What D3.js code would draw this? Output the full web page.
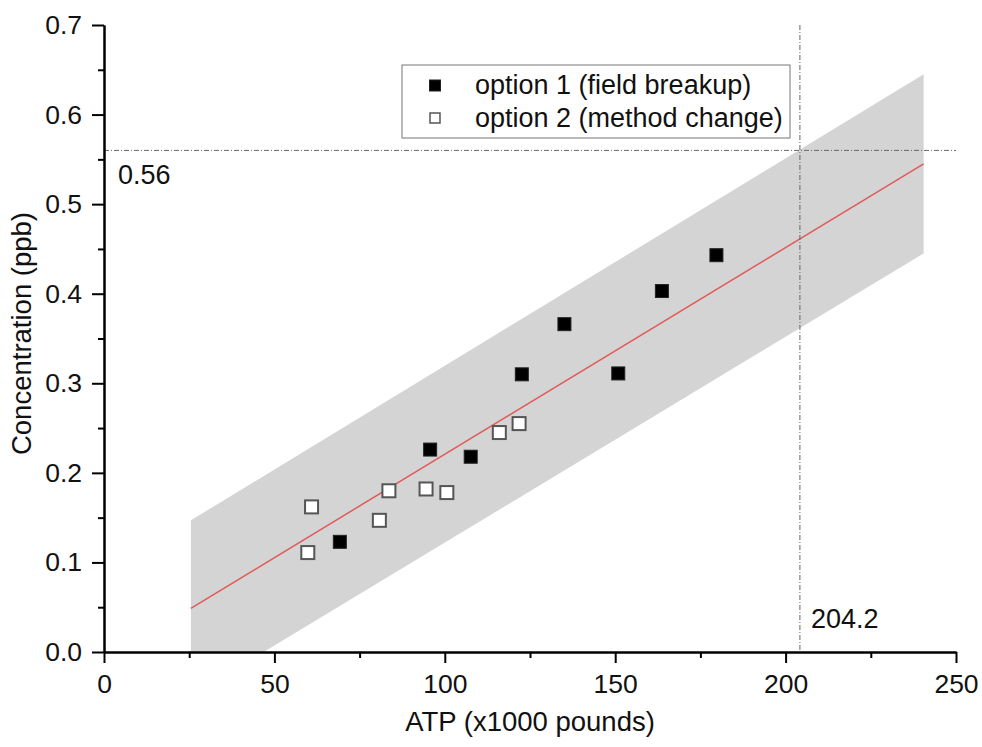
<!DOCTYPE html>
<html>
<head>
<meta charset="utf-8">
<script src="https://cdn.jsdelivr.net/npm/d3@7"></script>
<style>
  html, body { margin: 0; padding: 0; background: #fff; }
  svg { display: block; }
  text { font-family: "Liberation Sans", Arial, sans-serif; fill: #111; }
</style>
</head>
<body>
<svg id="chart" width="982" height="747"></svg>
<script>
// ---------------- data ----------------
const xTicks = [0, 50, 100, 150, 200, 250];
const xMinorTicks = [25, 75, 125, 175, 225];
const yTicks = [0.0, 0.1, 0.2, 0.3, 0.4, 0.5, 0.6, 0.7];
const yMinorTicks = [0.05, 0.15, 0.25, 0.35, 0.45, 0.55, 0.65];

const option1X = [69.2, 95.7, 107.6, 122.6, 135.1, 150.9, 163.7, 179.7];
const option1Y = [0.123, 0.226, 0.218, 0.310, 0.366, 0.311, 0.403, 0.443];

const option2X = [59.8, 60.9, 80.8, 83.6, 94.5, 100.6, 116.0, 121.8];
const option2Y = [0.111, 0.162, 0.147, 0.180, 0.182, 0.178, 0.245, 0.255];

const fitX = [25.5, 240.5];
const fitY = [0.0488, 0.545];
const bandUpper = [0.147, 0.645];
const bandLower = [-0.049, 0.445];

const refX = 204.2;
const refY = 0.56;
const refXLabel = "204.2";
const refYLabel = "0.56";

const seriesNames = ["option 1 (field breakup)", "option 2 (method change)"];
const xTitle = "ATP (x1000 pounds)";
const yTitle = "Concentration (ppb)";

// ---------------- layout ----------------
const svg = d3.select("#chart");
const mLeft = 104, mRight = 956, mTop = 25, mBottom = 652;

const x = d3.scaleLinear().domain([0, 250]).range([mLeft, mRight]);
const y = d3.scaleLinear().domain([0, 0.7]).range([mBottom, mTop]);

svg.append("defs").append("clipPath").attr("id", "plotclip")
  .append("rect").attr("x", mLeft).attr("y", mTop)
  .attr("width", mRight - mLeft).attr("height", mBottom - mTop);

// confidence band
const bandData = fitX.map((d, i) => ({x: d, lo: bandLower[i], hi: bandUpper[i]}));
svg.append("path")
  .datum(bandData)
  .attr("clip-path", "url(#plotclip)")
  .attr("fill", "#d4d4d4")
  .attr("d", d3.area().x(d => x(d.x)).y0(d => y(d.lo)).y1(d => y(d.hi)));

// fit line
const fitData = fitX.map((d, i) => ({x: d, y: fitY[i]}));
svg.append("path")
  .datum(fitData)
  .attr("fill", "none")
  .attr("stroke", "#e05a5a")
  .attr("stroke-width", 1.5)
  .attr("d", d3.line().x(d => x(d.x)).y(d => y(d.y)));

// reference lines
svg.append("line")
  .attr("x1", x(0)).attr("x2", x(250))
  .attr("y1", y(refY)).attr("y2", y(refY))
  .attr("stroke", "#666").attr("stroke-width", 1)
  .attr("stroke-dasharray", "5,2,1,2");
svg.append("line")
  .attr("x1", x(refX)).attr("x2", x(refX))
  .attr("y1", y(0.7)).attr("y2", y(0))
  .attr("stroke", "#666").attr("stroke-width", 1)
  .attr("stroke-dasharray", "5,2,1,2");

svg.append("text").attr("x", x(0) + 14).attr("y", y(refY) + 34)
  .attr("font-size", 27).text(refYLabel);
svg.append("text").attr("x", x(refX) + 11).attr("y", y(0) - 24)
  .attr("font-size", 27).text(refXLabel);

// markers
const msize = 13;
const p1 = option1X.map((d, i) => ({x: d, y: option1Y[i]}));
const p2 = option2X.map((d, i) => ({x: d, y: option2Y[i]}));
svg.append("g").selectAll("rect").data(p1).join("rect")
  .attr("x", d => x(d.x) - msize / 2).attr("y", d => y(d.y) - msize / 2)
  .attr("width", msize).attr("height", msize)
  .attr("fill", "#000").attr("stroke", "#222").attr("stroke-width", 1);
svg.append("g").selectAll("rect").data(p2).join("rect")
  .attr("x", d => x(d.x) - msize / 2).attr("y", d => y(d.y) - msize / 2)
  .attr("width", msize).attr("height", msize)
  .attr("fill", "#fff").attr("stroke", "#555").attr("stroke-width", 2);

// axes
function styleAxis(g) {
  g.select(".domain").attr("stroke", "#000").attr("stroke-width", 2);
  g.selectAll(".tick line").attr("stroke", "#000").attr("stroke-width", 2);
  g.selectAll(".tick text").attr("font-size", 26.5).attr("fill", "#111")
    .attr("font-family", "'Liberation Sans', Arial, sans-serif");
}
svg.append("g").attr("transform", `translate(0,${mBottom})`)
  .call(d3.axisBottom(x).tickValues(xMinorTicks).tickSize(6).tickSizeOuter(0).tickFormat(""))
  .call(styleAxis);
svg.append("g").attr("transform", `translate(0,${mBottom})`)
  .call(d3.axisBottom(x).tickValues(xTicks).tickSize(11).tickSizeOuter(0).tickPadding(11).tickFormat(d3.format("d")))
  .call(styleAxis);
svg.append("g").attr("transform", `translate(${mLeft},0)`)
  .call(d3.axisLeft(y).tickValues(yMinorTicks).tickSize(6).tickSizeOuter(0).tickFormat(""))
  .call(styleAxis);
svg.append("g").attr("transform", `translate(${mLeft},0)`)
  .call(d3.axisLeft(y).tickValues(yTicks).tickSize(12).tickSizeOuter(0).tickPadding(10).tickFormat(d3.format(".1f")))
  .call(styleAxis);

// axis titles
svg.append("text").attr("x", (mLeft + mRight) / 2).attr("y", 731)
  .attr("text-anchor", "middle").attr("font-size", 27.5).text(xTitle);
svg.append("text")
  .attr("transform", `translate(31,${(mTop + mBottom) / 2 - 5}) rotate(-90)`)
  .attr("text-anchor", "middle").attr("font-size", 27.5).text(yTitle);

// legend
const lg = svg.append("g");
lg.append("rect").attr("x", 402).attr("y", 65).attr("width", 388).attr("height", 73)
  .attr("fill", "#fff").attr("stroke", "#777").attr("stroke-width", 1);
const legendRows = [
  {name: seriesNames[0], fill: "#000", stroke: "#222", sw: 1, size: 11, cy: 85.5},
  {name: seriesNames[1], fill: "#fff", stroke: "#555", sw: 1.5, size: 10, cy: 118}
];
legendRows.forEach(r => {
  lg.append("rect").attr("x", 435 - r.size / 2).attr("y", r.cy - r.size / 2)
    .attr("width", r.size).attr("height", r.size)
    .attr("fill", r.fill).attr("stroke", r.stroke).attr("stroke-width", r.sw);
  lg.append("text").attr("x", 475).attr("y", r.cy + 8.5)
    .attr("font-size", 27).text(r.name);
});
</script>
</body>
</html>
